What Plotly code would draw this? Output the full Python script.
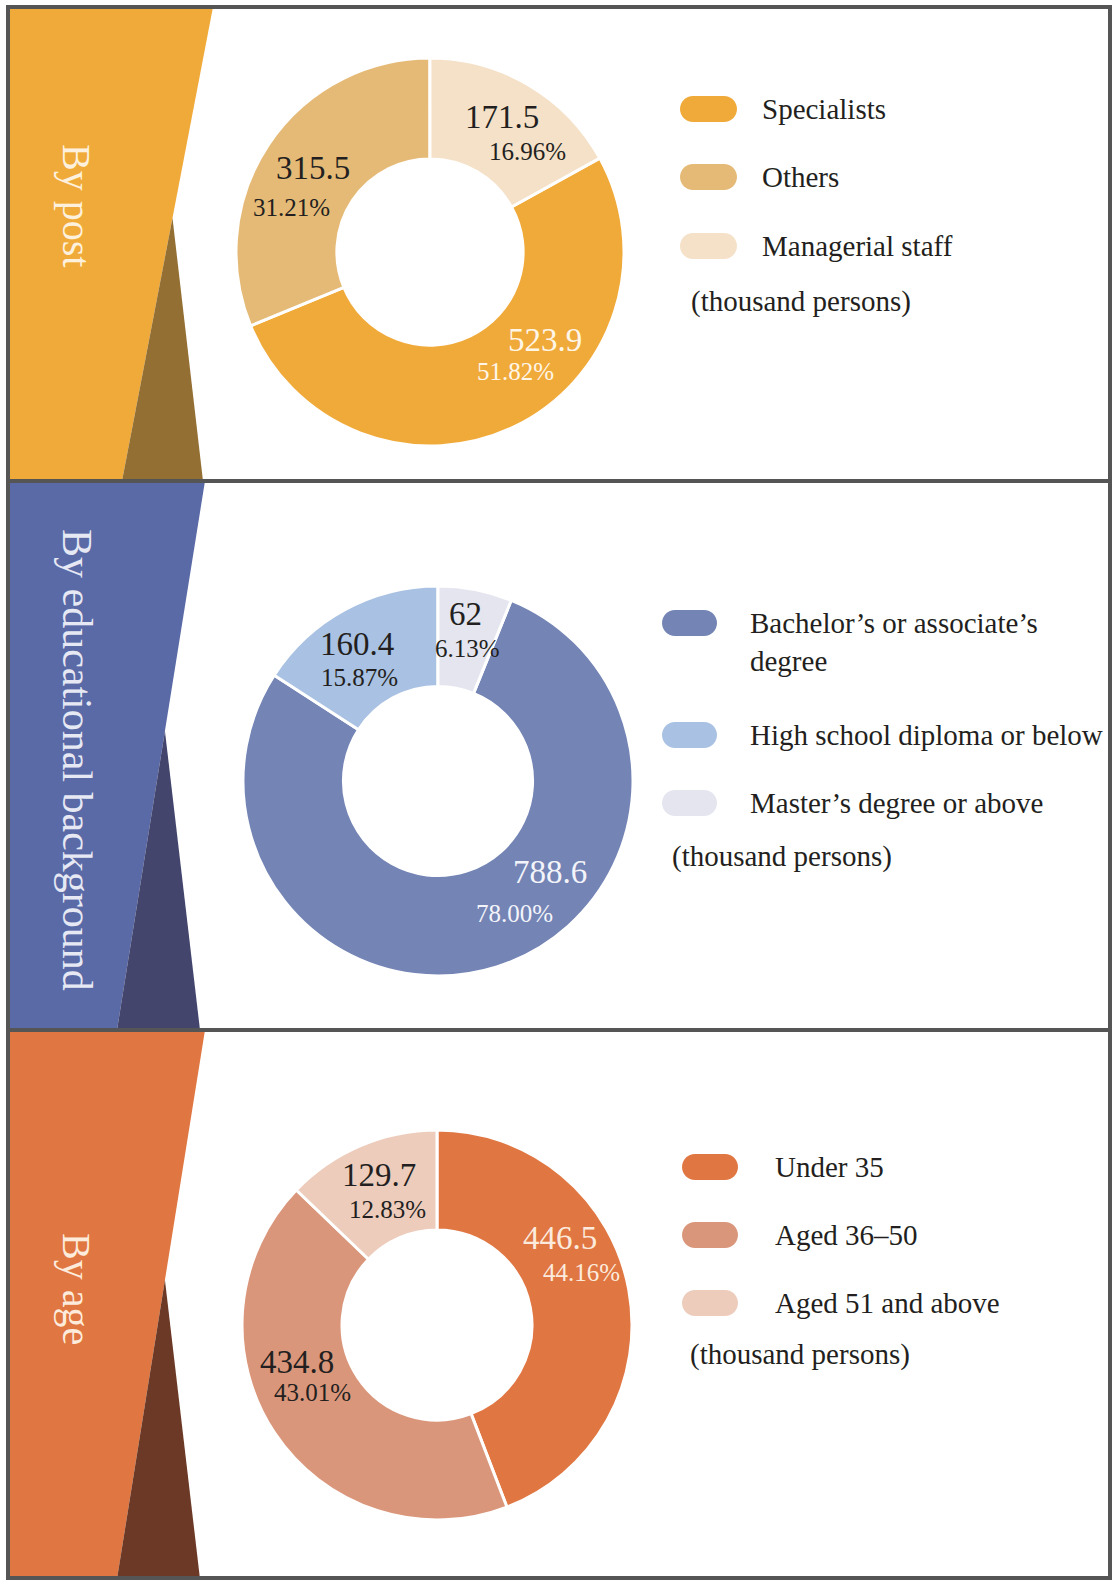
import plotly.graph_objects as go

W, H = 1113, 1581

# ---------------- data ----------------
post_labels = ["Specialists", "Others", "Managerial staff"]
post_values = [523.9, 315.5, 171.5]
post_pcts = [51.82, 31.21, 16.96]

edu_labels = ["Bachelor’s or associate’s<br>degree", "High school diploma or below", "Master’s degree or above"]
edu_values = [788.6, 160.4, 62]
edu_pcts = [78.00, 15.87, 6.13]

age_labels = ["Under 35", "Aged 36–50", "Aged 51 and above"]
age_values = [446.5, 434.8, 129.7]
age_pcts = [44.16, 43.01, 12.83]

panel_titles = ["By post", "By educational background", "By age"]
unit_note = "(thousand persons)"

# ---------------- layout / style ----------------
FONT = "Liberation Serif, Times New Roman, serif"
DARK_TXT = "#231F20"
LEG_SIZE = 29

panels = [
    dict(labels=post_labels, values=post_values, pcts=post_pcts, title=panel_titles[0], title_size=40,
         y0=7, y1=481, main="#F0AA3A", dark="#936F33", top_x=213, bot_x=122, apex_y=218, tri_right=203,
         title_color="#FDF1DE", title_y=205,
         colors=["#F0AA3A", "#E5BA76", "#F5E1C8"], text_colors=["#FFF6E8", DARK_TXT, DARK_TXT],
         center=(430, 252), R=194, hole=0.48, rotation=61.06,
         value_pos=[(545, 340), (313, 168), (502, 117)], pct_pos=[(515, 371), (291, 207), (527, 151)],
         pill_x=(680, 737), text_x=760, rows=[109, 177, 246], note=(689, 301)),
    dict(labels=edu_labels, values=edu_values, pcts=edu_pcts, title=panel_titles[1], title_size=42,
         y0=481, y1=1030, main="#5A6AA6", dark="#43456D", top_x=205, bot_x=117, apex_y=731, tri_right=200,
         title_color="#E6E8F4", title_y=760,
         colors=["#7384B5", "#A9C1E2", "#E4E5EF"], text_colors=["#F3F4FA", DARK_TXT, DARK_TXT],
         center=(438, 781), R=195, hole=0.485, rotation=22.07,
         value_pos=[(550, 872), (357, 644), (465, 614)], pct_pos=[(514, 913), (359, 677), (467, 648)],
         pill_x=(662, 717), text_x=748, rows=[623, 735, 803], note=(670, 856)),
    dict(labels=age_labels, values=age_values, pcts=age_pcts, title=panel_titles[2], title_size=40,
         y0=1030, y1=1579, main="#E07641", dark="#6B3925", top_x=205, bot_x=117, apex_y=1280, tri_right=200,
         title_color="#FDEBDC", title_y=1289,
         colors=["#E07642", "#DA967B", "#EDCCBC"], text_colors=["#FCEBDD", DARK_TXT, DARK_TXT],
         center=(437, 1325), R=195, hole=0.487, rotation=0,
         value_pos=[(560, 1238), (297, 1362), (379, 1175)], pct_pos=[(581, 1272), (312, 1392), (387, 1209)],
         pill_x=(682, 738), text_x=773, rows=[1167, 1235, 1303], note=(688, 1354)),
]


def pill_path(x0, x1, yc, h=26):
    r = h / 2
    k = 0.5523 * r
    L, Rr, T, B = x0 + r, x1 - r, yc - r, yc + r
    return (f"M {L},{T} L {Rr},{T} C {Rr+k},{T} {x1},{yc-k} {x1},{yc} "
            f"C {x1},{yc+k} {Rr+k},{B} {Rr},{B} L {L},{B} "
            f"C {L-k},{B} {x0},{yc+k} {x0},{yc} C {x0},{yc-k} {L-k},{T} {L},{T} Z")


fig = go.Figure()
shapes = []
annotations = []

for p in panels:
    y0, y1 = p["y0"], p["y1"]
    shapes.append(dict(type="path", xref="x", yref="y", layer="below",
                       path=f"M 8,{y0} L {p['top_x']},{y0} L {p['bot_x']},{y1} L 8,{y1} Z",
                       fillcolor=p["main"], line=dict(width=0)))
    apex_x = p["top_x"] + (p["bot_x"] - p["top_x"]) * (p["apex_y"] - y0) / (y1 - y0)
    shapes.append(dict(type="path", xref="x", yref="y", layer="below",
                       path=f"M {apex_x},{p['apex_y']} L {p['bot_x']},{y1} L {p['tri_right']},{y1} Z",
                       fillcolor=p["dark"], line=dict(width=0)))
    annotations.append(dict(x=77, y=p["title_y"], xref="x", yref="y", text=p["title"], textangle=90,
                            showarrow=False, xanchor="center", yanchor="middle",
                            font=dict(family=FONT, size=p["title_size"], color=p["title_color"])))

    cx, cy = p["center"]
    R = p["R"]
    fig.add_trace(go.Pie(
        labels=[l.replace("<br>", " ") for l in p["labels"]], values=p["values"],
        sort=False, direction="clockwise", rotation=p["rotation"], hole=p["hole"],
        marker=dict(colors=p["colors"], line=dict(color="white", width=3)),
        textinfo="none", showlegend=False,
        domain=dict(x=[(cx - R) / W, (cx + R) / W], y=[1 - (cy + R) / H, 1 - (cy - R) / H]),
    ))

    for i, v in enumerate(p["values"]):
        vx, vy = p["value_pos"][i]
        px_, py_ = p["pct_pos"][i]
        annotations.append(dict(x=vx, y=vy, xref="x", yref="y", text=f"{v:g}", showarrow=False,
                                xanchor="center", yanchor="middle",
                                font=dict(family=FONT, size=33, color=p["text_colors"][i])))
        annotations.append(dict(x=px_, y=py_, xref="x", yref="y", text=f"{p['pcts'][i]:.2f}%", showarrow=False,
                                xanchor="center", yanchor="middle",
                                font=dict(family=FONT, size=25, color=p["text_colors"][i])))

    for i, lab in enumerate(p["labels"]):
        yc = p["rows"][i]
        shapes.append(dict(type="path", xref="x", yref="y",
                           path=pill_path(p["pill_x"][0], p["pill_x"][1], yc),
                           fillcolor=p["colors"][i], line=dict(width=0)))
        nlines = lab.count("<br>") + 1
        annotations.append(dict(x=p["text_x"], y=yc + (nlines - 1) * 19, xref="x", yref="y", text=lab,
                                showarrow=False, xanchor="left", yanchor="middle", align="left",
                                font=dict(family=FONT, size=LEG_SIZE, color=DARK_TXT)))
    nx, ny = p["note"]
    annotations.append(dict(x=nx, y=ny, xref="x", yref="y", text=unit_note, showarrow=False,
                            xanchor="left", yanchor="middle",
                            font=dict(family=FONT, size=LEG_SIZE, color=DARK_TXT)))

shapes.append(dict(type="rect", xref="x", yref="y", x0=8, y0=7, x1=1110, y1=1578,
                   line=dict(color="#555555", width=4)))
for yy in (481, 1030):
    shapes.append(dict(type="line", xref="x", yref="y", x0=8, y0=yy, x1=1110, y1=yy,
                       line=dict(color="#555555", width=4)))

fig.update_layout(
    width=W, height=H, margin=dict(l=0, r=0, t=0, b=0),
    paper_bgcolor="white", plot_bgcolor="white",
    xaxis=dict(range=[0, W], visible=False, fixedrange=True),
    yaxis=dict(range=[H, 0], visible=False, fixedrange=True),
    shapes=shapes, annotations=annotations,
)

fig.write_html("out.html", config={"displayModeBar": False},
               post_script="document.body.style.margin='0';document.body.style.overflow='hidden';")
